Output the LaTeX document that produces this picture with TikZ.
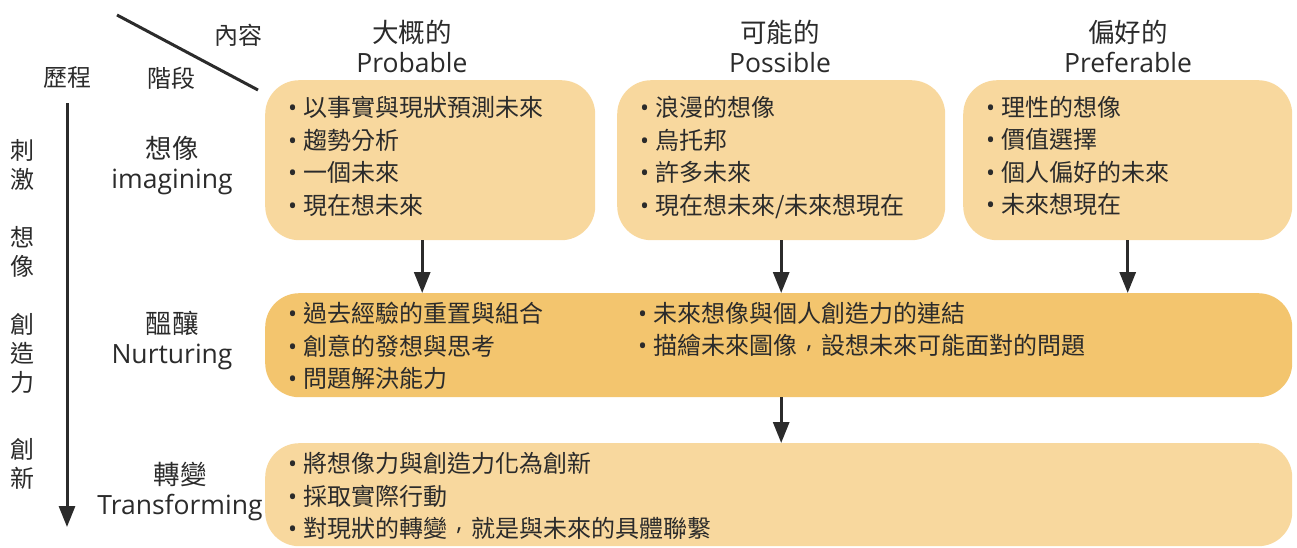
\documentclass[tikz,border=0pt]{standalone}
\usepackage{fontspec}
\setmainfont{Noto Sans CJK TC}
\newfontfamily\latin{Open Sans}
\usetikzlibrary{calc}
\usetikzlibrary{arrows.meta}
\usetikzlibrary{positioning}
\definecolor{paleorange}{HTML}{F8D89E}
\definecolor{deeporange}{HTML}{F3C56E}
\definecolor{inkgray}{HTML}{2B2B2B}
\tikzset{
  box/.style={rounded corners=34pt, anchor=north west, inner sep=0pt},
  head/.style={text=inkgray, font=\fontsize{26.5}{30}\selectfont, inner sep=0pt},
  side/.style={text=inkgray, font=\fontsize{24}{29}\selectfont, align=center, inner sep=0pt},
  list/.style={text=inkgray, font=\fontsize{24}{32.5}\selectfont, align=left, anchor=north west, inner sep=0pt},
  flow/.style={draw=inkgray, line width=3pt, -{Triangle[width=16pt,length=21pt]}},
}
\newcommand\dotitem{\makebox[15pt][l]{\latin •}}
\newcommand\twcomma{\makebox[1em][c]{\raisebox{0.28em}{\latin ,}}}

\begin{document}
\begin{tikzpicture}[x=1pt, y=-1pt]
\useasboundingbox (0,0) rectangle (1297,547);

% corner of the table
\coordinate (dg1) at (117,15);
\coordinate (dg2) at (258,90);
\draw[inkgray, line width=3pt] (dg1) -- (dg2);
\node[side] (cont) at (238,35) {內容};
\node[side] (proc) at (67,78) {歷程};
\node[side] (stag) at (171,78) {階段};

% column heads
\node[head, align=center] (h1) at (412,46) {大概的\\{\latin Probable}};
\node[head, align=center] (h2) at (780,46) {可能的\\{\latin Possible}};
\node[head, align=center] (h3) at (1128,46) {偏好的\\{\latin Preferable}};

% left axis
\coordinate (ax1) at (67,103);
\coordinate (ax2) at (67,527);
\draw[flow] (ax1) -- (ax2);
\node[side] (s1) at (22,165) {刺\\激};
\node[side] (s2) at (22,252) {想\\像};
\node[side] (s3) at (22,353) {創\\造\\力};
\node[side] (s4) at (22,464) {創\\新};

% stage labels
\node[head, align=center] (g1) at (172,166) {想像\\{\latin imagining}};
\node[head, align=center] (g2) at (172,341) {醞釀\\{\latin Nurturing}};
\node[head, align=center] (g3) at (180,491) {轉變\\{\latin Transforming}};

% boxes
\node[box, fill=paleorange, minimum width=330pt, minimum height=160pt] (p1) at (265,80) {};
\node[box, fill=paleorange, minimum width=328pt, minimum height=160pt] (p2) at (617,80) {};
\node[box, fill=paleorange, minimum width=329pt, minimum height=160pt] (p3) at (963,80) {};
\node[box, fill=deeporange, minimum width=1027pt, minimum height=104pt] (nu) at (265,293) {};
\node[box, fill=paleorange, minimum width=1027pt, minimum height=103pt] (tr) at (265,443) {};

\node[list] (l1) at ($(p1.north west)+(23,16)$) {\dotitem 以事實與現狀預測未來\\\dotitem 趨勢分析\\\dotitem 一個未來\\\dotitem 現在想未來};
\node[list] (l2) at ($(p2.north west)+(23,16)$) {\dotitem 浪漫的想像\\\dotitem 烏托邦\\\dotitem 許多未來\\\dotitem 現在想未來/未來想現在};
\node[list] (l3) at ($(p3.north west)+(23,16)$) {\dotitem 理性的想像\\\dotitem 價值選擇\\\dotitem 個人偏好的未來\\\dotitem 未來想現在};
\node[list] (l4) at ($(nu.north west)+(23,9)$) {\dotitem 過去經驗的重置與組合\\\dotitem 創意的發想與思考\\\dotitem 問題解決能力};
\node[list] (l5) at ($(nu.north west)+(373,9)$) {\dotitem 未來想像與個人創造力的連結\\\dotitem 描繪未來圖像\twcomma 設想未來可能面對的問題};
\node[list] (l6) at ($(tr.north west)+(23,9)$) {\dotitem 將想像力與創造力化為創新\\\dotitem 採取實際行動\\\dotitem 對現狀的轉變\twcomma 就是與未來的具體聯繫};

% arrows between rows
\coordinate (a1) at ($(p1.south)+(-8,0)$);
\draw[flow] (a1) -- (a1 |- nu.north);
\draw[flow] (p2.south) -- (p2.south |- nu.north);
\draw[flow] (p3.south) -- (p3.south |- nu.north);
\draw[flow] (nu.south -| p2.south) -- (tr.north -| p2.south);
\end{tikzpicture}
\end{document}
